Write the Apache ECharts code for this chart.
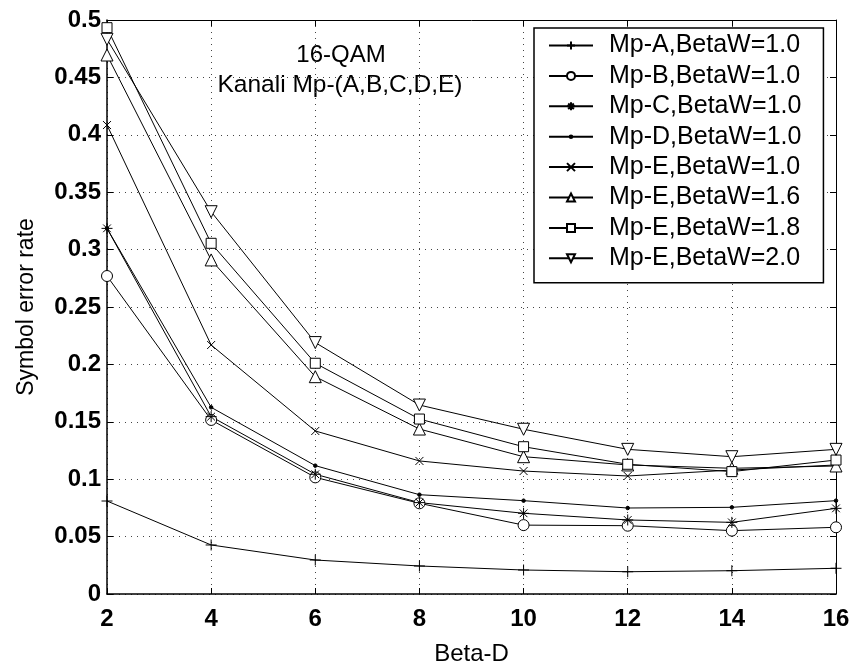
<!DOCTYPE html>
<html>
<head>
<meta charset="utf-8">
<script src="https://cdn.jsdelivr.net/npm/echarts@6/dist/echarts.min.js"></script>
<style>html,body{margin:0;padding:0;background:#fff}#c{width:854px;height:668px}</style>
</head>
<body>
<div id="c"></div>
<script>
const betaD = [2, 4, 6, 8, 10, 12, 14, 16];
const mpA   = [0.081, 0.0427, 0.0296, 0.0244, 0.0209, 0.0194, 0.0203, 0.0224];
const mpB   = [0.277, 0.1516, 0.1016, 0.079, 0.060, 0.0595, 0.0552, 0.0581];
const mpC   = [0.3185, 0.1545, 0.1043, 0.0796, 0.0703, 0.0645, 0.0624, 0.0746];
const mpD   = [0.3185, 0.1626, 0.1118, 0.0865, 0.0813, 0.0749, 0.0755, 0.0813];
const mpE10 = [0.4085, 0.2169, 0.142, 0.1159, 0.1071, 0.1028, 0.108, 0.1124];
const mpE16 = [0.4695, 0.291, 0.1893, 0.1437, 0.1196, 0.1124, 0.1095, 0.1115];
const mpE18 = [0.4933, 0.3055, 0.201, 0.1524, 0.1283, 0.113, 0.1066, 0.1167];
const mpE20 = [0.4832, 0.333, 0.219, 0.1646, 0.1435, 0.126, 0.1196, 0.126];
const seriesNames = ['Mp-A,BetaW=1.0','Mp-B,BetaW=1.0','Mp-C,BetaW=1.0','Mp-D,BetaW=1.0','Mp-E,BetaW=1.0','Mp-E,BetaW=1.6','Mp-E,BetaW=1.8','Mp-E,BetaW=2.0'];
const yTicks = ['0','0.05','0.1','0.15','0.2','0.25','0.3','0.35','0.4','0.45','0.5'];
const xTicks = ['2','4','6','8','10','12','14','16'];

const FONT = '"Liberation Sans", Arial, Helvetica, sans-serif';
const SYM = {
  plus: 'path://M5,0L5,10M0,5L10,5',
  star: 'path://M5,0L5,10M0,5L10,5M1.5,1.5L8.5,8.5M8.5,1.5L1.5,8.5',
  cross: 'path://M0,0L10,10M10,0L0,10',
  dot: 'path://M0,0M10,10M3.4,5A1.6,1.6,0,1,1,6.6,5A1.6,1.6,0,1,1,3.4,5Z'
};
const styles = [
  {symbol: SYM.plus, size: 11, rot: 0, fill: 'none'},
  {symbol: 'circle', size: 11, rot: 0, fill: '#fff'},
  {symbol: SYM.star, size: 11, rot: 0, fill: 'none'},
  {symbol: SYM.dot, size: 11, rot: 0, fill: '#000'},
  {symbol: SYM.cross, size: 8, rot: 0, fill: 'none'},
  {symbol: 'triangle', size: 12, rot: 0, fill: '#fff'},
  {symbol: 'rect', size: 10, rot: 0, fill: '#fff'},
  {symbol: 'triangle', size: 12, rot: 180, fill: '#fff'}
];
const dataSets = [mpA, mpB, mpC, mpD, mpE10, mpE16, mpE18, mpE20];

const series = dataSets.map((arr, i) => ({
  name: seriesNames[i],
  type: 'line',
  data: betaD.map((x, j) => [x, arr[j]]),
  symbol: styles[i].symbol,
  symbolSize: styles[i].size,
  symbolRotate: styles[i].rot,
  showAllSymbol: true,
  silent: true,
  animation: false,
  lineStyle: {color: '#000', width: 1},
  itemStyle: {color: styles[i].fill, borderColor: '#000', borderWidth: 1},
  z: 3
}));

const chart = echarts.init(document.getElementById('c'), null, {renderer: 'canvas'});
chart.setOption({
  backgroundColor: '#fff',
  animation: false,
  grid: {left: 107, right: 18, top: 20, bottom: 74, show: false, containLabel: false, outerBoundsMode: 'none'},
  xAxis: [{
    type: 'value', min: 2, max: 16, interval: 2,
    name: 'Beta-D', nameLocation: 'middle', nameGap: 48,
    nameTextStyle: {fontFamily: FONT, fontSize: 24, color: '#000'},
    axisLine: {lineStyle: {color: '#000', width: 1.5}},
    axisTick: {inside: true, length: 6, lineStyle: {color: '#000'}},
    axisLabel: {fontFamily: FONT, fontSize: 24, fontWeight: 'bold', color: '#000', margin: 13,
      formatter: v => xTicks[betaD.indexOf(v)] || String(v)},
    splitLine: {show: true, lineStyle: {color: '#444', type: [1, 5], width: 1}}
  }, {
    type: 'value', min: 2, max: 16, interval: 2, position: 'top',
    axisLine: {show: true, onZero: false, lineStyle: {color: '#000', width: 1}},
    axisTick: {show: true, inside: true, length: 6, lineStyle: {color: '#000'}},
    axisLabel: {show: false}, splitLine: {show: false}
  }],
  yAxis: [{
    type: 'value', min: 0, max: 0.5, interval: 0.05,
    name: 'Symbol error rate', nameLocation: 'middle', nameGap: 69,
    nameTextStyle: {fontFamily: FONT, fontSize: 23, color: '#000'},
    axisLine: {show: true, lineStyle: {color: '#000', width: 1.5}},
    axisTick: {show: true, inside: true, length: 6, lineStyle: {color: '#000'}},
    axisLabel: {fontFamily: FONT, fontSize: 24, fontWeight: 'bold', color: '#000', margin: 6,
      formatter: v => yTicks[Math.round(v / 0.05)]},
    splitLine: {show: true, lineStyle: {color: '#444', type: [1, 5], width: 1}}
  }, {
    type: 'value', min: 0, max: 0.5, interval: 0.05, position: 'right',
    axisLine: {show: true, onZero: false, lineStyle: {color: '#000', width: 1}},
    axisTick: {show: true, inside: true, length: 6, lineStyle: {color: '#000'}},
    axisLabel: {show: false}, splitLine: {show: false}
  }],
  legend: {
    orient: 'vertical', left: 534, top: 28,
    data: seriesNames,
    backgroundColor: '#fff',
    borderColor: '#000', borderWidth: 1.5,
    padding: [5, 22, 12, 14],
    itemWidth: 44, itemHeight: 10, itemGap: 5.4,
    selectedMode: false,
    textStyle: {fontFamily: FONT, fontSize: 25, color: '#000', padding: [0, 0, 0, 11]}
  },
  graphic: [
    {type: 'text', style: {text: '16-QAM', font: '24px ' + FONT, fill: '#000', align: 'center', verticalAlign: 'middle', x: 341, y: 55}},
    {type: 'text', style: {text: 'Kanali Mp-(A,B,C,D,E)', font: '24.5px ' + FONT, fill: '#000', align: 'center', verticalAlign: 'middle', x: 340, y: 85}}
  ],
  series: series
});
</script>
</body>
</html>
